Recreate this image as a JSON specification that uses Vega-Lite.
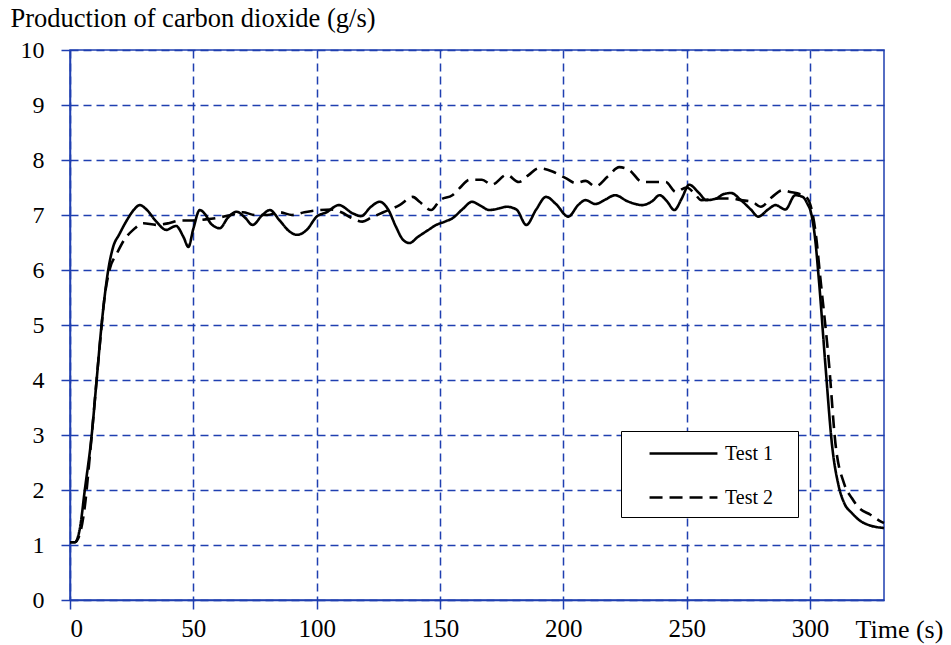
{
  "$schema": "https://vega.github.io/schema/vega-lite/v6.json",
  "width": 814,
  "height": 550,
  "autosize": "none",
  "padding": {"left": 70, "top": 50, "right": 67, "bottom": 45},
  "background": "white",
  "config": {
    "view": {"stroke": "#1f3fb0", "strokeWidth": 1.5},
    "font": "Liberation Serif"
  },
  "datasets": {
    "t1": [
      {"t":0,"v":1.05},{"t":2,"v":1.05},{"t":4,"v":1.3},{"t":6,"v":2.0},{"t":8.8,"v":3.0},{"t":10.8,"v":4.0},{"t":12.8,"v":5.0},{"t":15.5,"v":6.0},{"t":17.5,"v":6.42},{"t":20,"v":6.65},{"t":23,"v":6.9},{"t":26,"v":7.1},{"t":28.3,"v":7.18},{"t":31,"v":7.1},{"t":35,"v":6.88},{"t":39,"v":6.73},{"t":43,"v":6.8},{"t":46,"v":6.6},{"t":48,"v":6.42},{"t":50,"v":6.75},{"t":52.6,"v":7.09},{"t":55,"v":7.0},{"t":57,"v":6.85},{"t":60.7,"v":6.76},{"t":64,"v":6.95},{"t":67.5,"v":7.06},{"t":71,"v":6.95},{"t":74,"v":6.82},{"t":78,"v":7.0},{"t":81,"v":7.09},{"t":85,"v":6.9},{"t":89,"v":6.7},{"t":92,"v":6.64},{"t":96,"v":6.73},{"t":100,"v":6.97},{"t":104,"v":7.05},{"t":109,"v":7.18},{"t":114.6,"v":7.03},{"t":118,"v":6.98},{"t":122,"v":7.15},{"t":125.5,"v":7.24},{"t":129,"v":7.1},{"t":132,"v":6.8},{"t":135,"v":6.55},{"t":137.6,"v":6.49},{"t":141,"v":6.6},{"t":145,"v":6.72},{"t":148.5,"v":6.82},{"t":152,"v":6.88},{"t":155,"v":6.94},{"t":159,"v":7.1},{"t":163,"v":7.24},{"t":166,"v":7.18},{"t":170,"v":7.09},{"t":174,"v":7.12},{"t":177,"v":7.15},{"t":181,"v":7.1},{"t":185,"v":6.82},{"t":189,"v":7.1},{"t":193,"v":7.33},{"t":197,"v":7.2},{"t":202,"v":6.97},{"t":206,"v":7.18},{"t":209,"v":7.27},{"t":213,"v":7.2},{"t":217,"v":7.28},{"t":221,"v":7.36},{"t":226,"v":7.25},{"t":232,"v":7.18},{"t":236,"v":7.25},{"t":239,"v":7.36},{"t":242,"v":7.25},{"t":245,"v":7.09},{"t":248,"v":7.3},{"t":251,"v":7.55},{"t":255,"v":7.4},{"t":258,"v":7.27},{"t":262,"v":7.3},{"t":265,"v":7.38},{"t":268,"v":7.4},{"t":272,"v":7.27},{"t":276,"v":7.1},{"t":279,"v":6.97},{"t":283,"v":7.1},{"t":286,"v":7.18},{"t":290,"v":7.1},{"t":294,"v":7.36},{"t":297,"v":7.33},{"t":299,"v":7.2},{"t":300.3,"v":7.06},{"t":302,"v":6.6},{"t":303.6,"v":5.82},{"t":306.3,"v":4.24},{"t":309,"v":2.79},{"t":311.7,"v":2.06},{"t":314,"v":1.75},{"t":317,"v":1.58},{"t":320,"v":1.45},{"t":324,"v":1.36},{"t":330,"v":1.31}
    ],
    "t2": [
      {"t":0,"v":1.05},{"t":2,"v":1.05},{"t":4,"v":1.2},{"t":6,"v":1.7},{"t":8,"v":2.6},{"t":10,"v":3.6},{"t":12,"v":4.6},{"t":14,"v":5.5},{"t":16,"v":6.0},{"t":19,"v":6.3},{"t":22,"v":6.55},{"t":25.6,"v":6.73},{"t":29.7,"v":6.85},{"t":35,"v":6.82},{"t":40,"v":6.85},{"t":44.5,"v":6.9},{"t":50,"v":6.9},{"t":55,"v":6.92},{"t":60,"v":6.95},{"t":65,"v":7.0},{"t":70,"v":7.05},{"t":75,"v":7.0},{"t":80,"v":7.0},{"t":85,"v":7.05},{"t":90,"v":7.0},{"t":95,"v":7.05},{"t":101,"v":7.09},{"t":106,"v":7.1},{"t":110,"v":7.05},{"t":114,"v":6.95},{"t":118.6,"v":6.88},{"t":122,"v":6.95},{"t":127,"v":7.05},{"t":133.6,"v":7.18},{"t":139,"v":7.33},{"t":141.7,"v":7.24},{"t":146.4,"v":7.09},{"t":150,"v":7.27},{"t":155,"v":7.36},{"t":158,"v":7.49},{"t":162,"v":7.64},{"t":167,"v":7.64},{"t":171,"v":7.55},{"t":177,"v":7.73},{"t":182,"v":7.6},{"t":186,"v":7.73},{"t":190,"v":7.85},{"t":195.6,"v":7.79},{"t":201,"v":7.67},{"t":205,"v":7.58},{"t":209,"v":7.62},{"t":213,"v":7.52},{"t":218,"v":7.7},{"t":222.7,"v":7.87},{"t":226.7,"v":7.82},{"t":232,"v":7.6},{"t":236,"v":7.6},{"t":241.5,"v":7.6},{"t":245.6,"v":7.42},{"t":250,"v":7.5},{"t":253,"v":7.4},{"t":256,"v":7.27},{"t":263,"v":7.3},{"t":268,"v":7.3},{"t":272,"v":7.27},{"t":276.6,"v":7.24},{"t":280,"v":7.15},{"t":284.7,"v":7.33},{"t":288.8,"v":7.45},{"t":292,"v":7.42},{"t":296,"v":7.38},{"t":299,"v":7.3},{"t":301,"v":7.03},{"t":302.5,"v":6.6},{"t":304,"v":5.94},{"t":307.7,"v":4.3},{"t":310.3,"v":2.85},{"t":313.8,"v":2.12},{"t":317,"v":1.85},{"t":320,"v":1.67},{"t":324.5,"v":1.55},{"t":329,"v":1.42},{"t":330,"v":1.4}
    ]
  },
  "layer": [
    {
      "data": {"name": "t1"},
      "transform": [{"calculate": "'Test 1'", "as": "series"}],
      "mark": {"type": "line", "color": "black", "strokeWidth": 2.6, "interpolate": "monotone"},
      "encoding": {
        "x": {
          "field": "t", "type": "quantitative",
          "scale": {"domain": [0, 330], "nice": false, "zero": false},
          "axis": {
            "values": [0, 50, 100, 150, 200, 250, 300],
            "title": "Time (s)",
            "titleFont": "Liberation Serif", "titleFontSize": 26, "titleFontWeight": "normal", "titleColor": "black",
            "titleAngle": 0, "titleAlign": "left", "titleBaseline": "alphabetic", "titleX": 785, "titleY": 37,
            "labelFont": "Liberation Serif", "labelFontSize": 25, "labelColor": "black", "labelPadding": 7,
            "domainColor": "#1f3fb0", "domainWidth": 1.5,
            "tickColor": "#1f3fb0", "tickSize": 9, "tickWidth": 1.5,
            "grid": true, "gridColor": "#1f3fb0", "gridDash": [8, 5], "gridWidth": 1.5, "gridOpacity": 1
          }
        },
        "y": {
          "field": "v", "type": "quantitative",
          "scale": {"domain": [0, 10], "nice": false},
          "axis": {
            "values": [0, 1, 2, 3, 4, 5, 6, 7, 8, 9, 10],
            "title": "Production of carbon dioxide (g/s)",
            "titleFont": "Liberation Serif", "titleFontSize": 26.5, "titleFontWeight": "normal", "titleColor": "black",
            "titleAngle": 0, "titleAlign": "left", "titleBaseline": "alphabetic", "titleX": -60, "titleY": -24,
            "labelFont": "Liberation Serif", "labelFontSize": 24, "labelColor": "black", "labelPadding": 17,
            "domainColor": "#1f3fb0", "domainWidth": 1.5,
            "tickColor": "#1f3fb0", "tickSize": 9, "tickWidth": 1.5,
            "grid": true, "gridColor": "#1f3fb0", "gridDash": [8, 5], "gridWidth": 1.5, "gridOpacity": 1
          }
        },
        "strokeDash": {
          "field": "series", "type": "nominal",
          "scale": {"domain": ["Test 1", "Test 2"], "range": [[1, 0], [13, 7]]},
          "legend": {
            "title": null, "orient": "none", "legendX": 551, "legendY": 381,
            "direction": "vertical",
            "fillColor": "white", "strokeColor": "black",
            "padding": 9, "symbolOffset": 40, "rowPadding": 20,
            "symbolType": "M-2.83,0L2.83,0", "symbolSize": 576, "symbolStrokeWidth": 2.6, "symbolStrokeColor": "black",
            "labelFont": "Liberation Serif", "labelFontSize": 20, "labelColor": "black", "labelOffset": 28,
            "labelExpr": "datum.label + '\u2800'"
          }
        }
      }
    },
    {
      "data": {"name": "t2"},
      "transform": [{"calculate": "'Test 2'", "as": "series"}],
      "mark": {"type": "line", "color": "black", "strokeWidth": 2.6, "interpolate": "monotone"},
      "encoding": {
        "x": {"field": "t", "type": "quantitative"},
        "y": {"field": "v", "type": "quantitative"},
        "strokeDash": {"field": "series", "type": "nominal"}
      }
    }
  ]
}
